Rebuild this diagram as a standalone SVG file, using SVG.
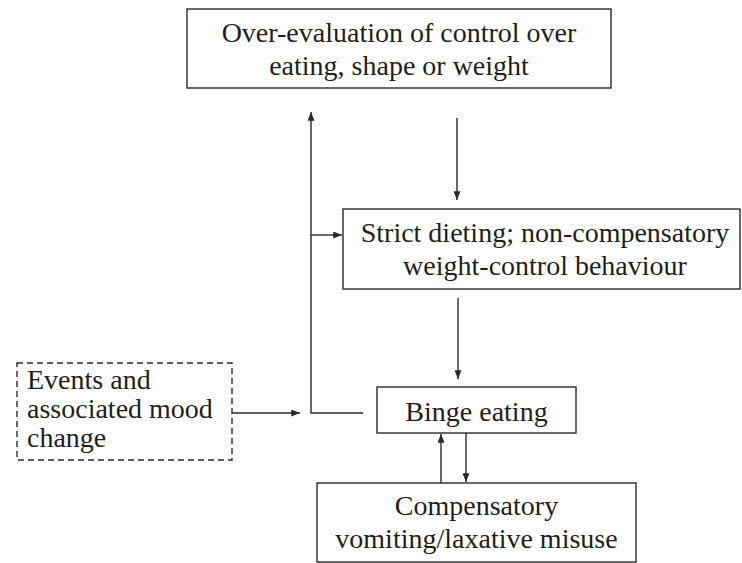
<svg xmlns="http://www.w3.org/2000/svg" width="742" height="563" viewBox="0 0 742 563">
  <defs>
    <style>
      .box { fill: #ffffff; stroke: #2a2a2a; stroke-width: 1.4; }
      .dash { fill: #ffffff; stroke: #2a2a2a; stroke-width: 1.4; stroke-dasharray: 6 4; }
      .lbl { font-family: "Liberation Serif", "Times New Roman", serif; font-size: 28px; fill: #1e1e1e; }
      .c { text-anchor: middle; }
      .conn { fill: none; stroke: #2a2a2a; stroke-width: 1.4; }
    </style>
    <marker id="ah" viewBox="0 0 10 8" refX="10" refY="4" markerWidth="9" markerHeight="7" markerUnits="userSpaceOnUse" orient="auto">
      <path d="M0,0 L10,4 L0,8 z" fill="#2a2a2a"/>
    </marker>
  </defs>
  <rect width="742" height="563" fill="#ffffff"/>

  <g id="connectors">
    <line class="conn" x1="457" y1="118" x2="457" y2="200" marker-end="url(#ah)"/>
    <line class="conn" x1="458" y1="298" x2="458" y2="379" marker-end="url(#ah)"/>
    <polyline class="conn" points="363,413 311,413 311,112" marker-end="url(#ah)"/>
    <line class="conn" x1="311" y1="235" x2="342" y2="235" marker-end="url(#ah)"/>
    <line class="conn" x1="232" y1="413" x2="300" y2="413" marker-end="url(#ah)"/>
    <line class="conn" x1="441" y1="483" x2="441" y2="434" marker-end="url(#ah)"/>
    <line class="conn" x1="466" y1="433" x2="466" y2="482" marker-end="url(#ah)"/>
  </g>

  <g id="node-overevaluation">
    <rect class="box" x="187" y="9" width="424" height="79"/>
    <text class="lbl c" x="399" y="42">Over-evaluation of control over</text>
    <text class="lbl c" x="399" y="75">eating, shape or weight</text>
  </g>

  <g id="node-strict-dieting">
    <rect class="box" x="343" y="209" width="397" height="80"/>
    <text class="lbl c" x="545" y="242">Strict dieting; non-compensatory</text>
    <text class="lbl c" x="545" y="275">weight-control behaviour</text>
  </g>

  <g id="node-events">
    <rect class="dash" x="17" y="363" width="215" height="97"/>
    <text class="lbl" x="27" y="389">Events and</text>
    <text class="lbl" x="27" y="418">associated mood</text>
    <text class="lbl" x="27" y="447">change</text>
  </g>

  <g id="node-binge">
    <rect class="box" x="377" y="387" width="199" height="46"/>
    <text class="lbl c" x="476.5" y="421">Binge eating</text>
  </g>

  <g id="node-compensatory">
    <rect class="box" x="317" y="483" width="319" height="79"/>
    <text class="lbl c" x="476.5" y="515">Compensatory</text>
    <text class="lbl c" x="476.5" y="548">vomiting/laxative misuse</text>
  </g>
</svg>
